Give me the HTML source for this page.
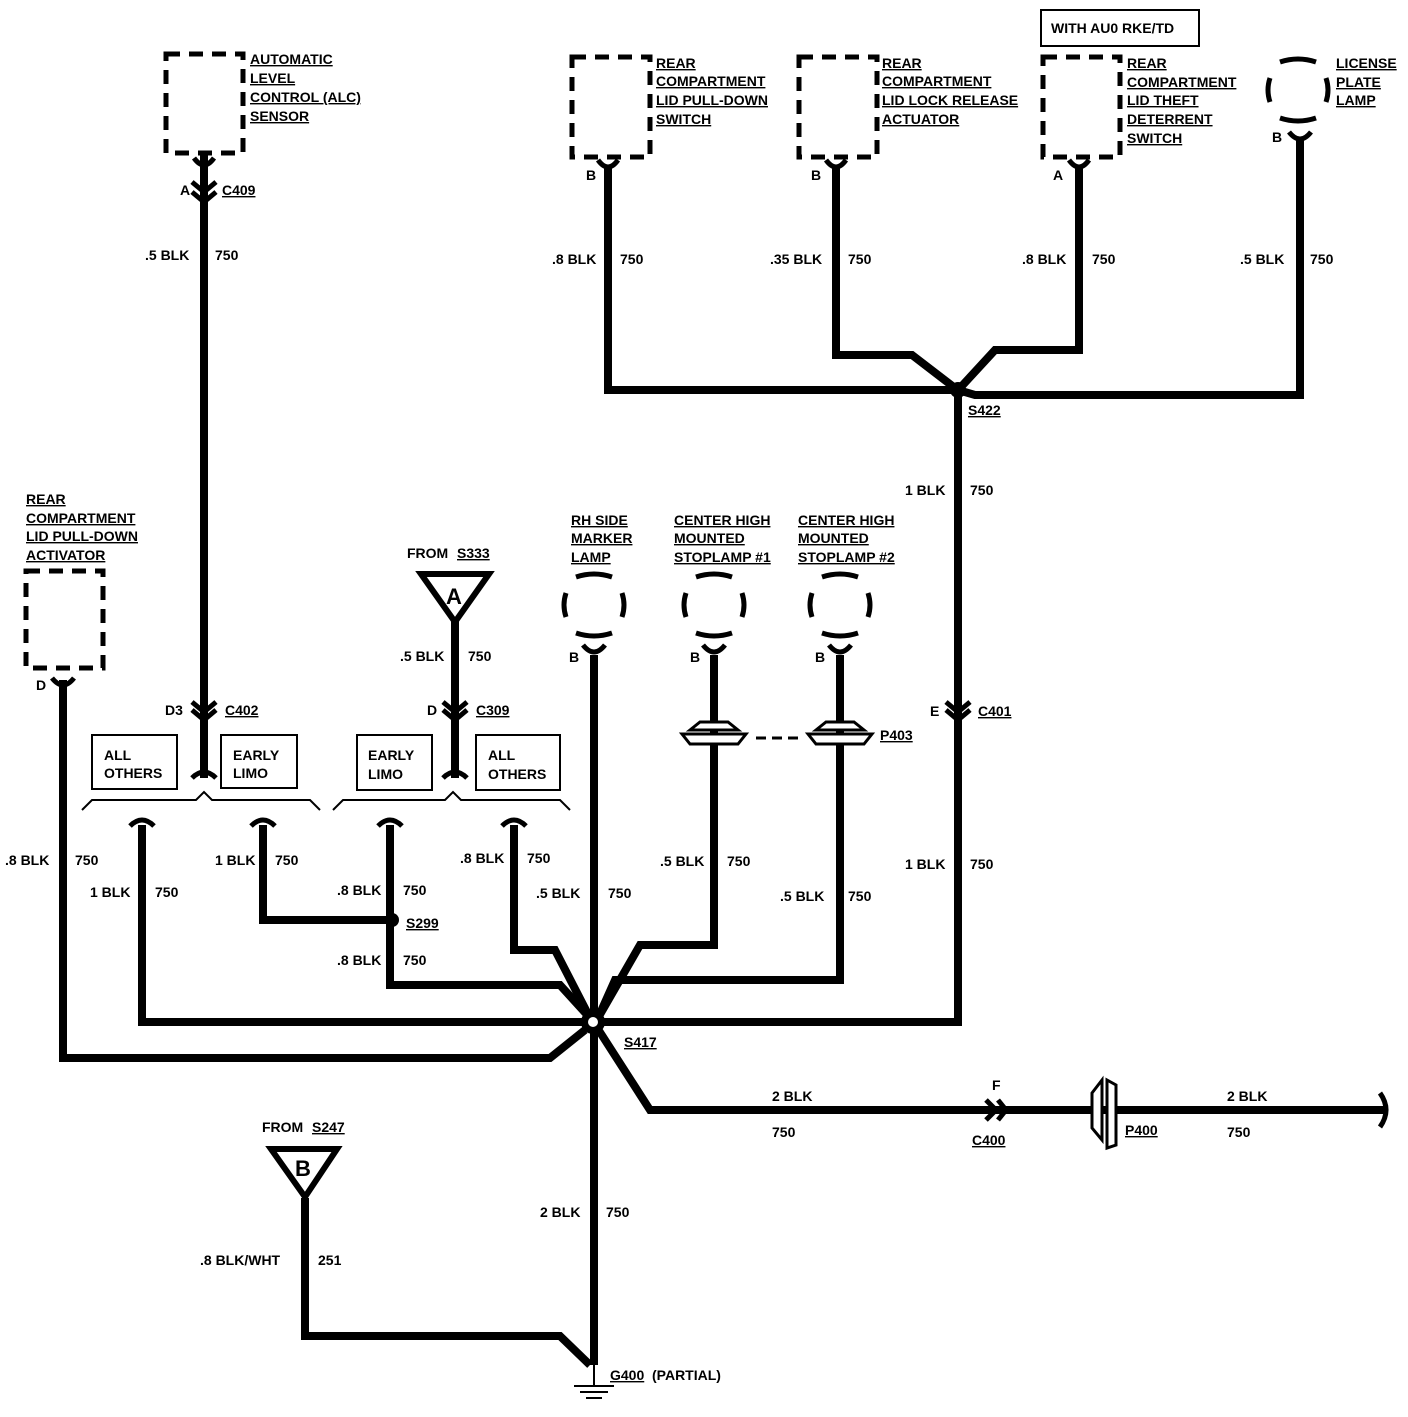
<!DOCTYPE html>
<html><head><meta charset="utf-8"><style>
html,body{margin:0;padding:0;background:#fff;}
svg text{font-family:"Liberation Sans",sans-serif;font-weight:bold;font-size:14px;fill:#000;}
</style></head><body>
<svg width="1408" height="1412" viewBox="0 0 1408 1412" xmlns="http://www.w3.org/2000/svg">
<rect width="1408" height="1412" fill="#fff"/>
<g fill="none" stroke="#000" stroke-width="8" stroke-linejoin="miter">
<path d="M204 155 V778"/>
<path d="M455 620 V778"/>
<path d="M63 680 V1058 H550 L585 1030"/>
<path d="M142 825 V1022 H593"/>
<path d="M263 825 V920 H392"/>
<path d="M390 825 V985 H560 L590 1018"/>
<path d="M514 825 V950 H555 L590 1018"/>
<path d="M594 655 V1365"/>
<path d="M714 655 V945 H640 L598 1018"/>
<path d="M840 655 V980 H615 L598 1018"/>
<path d="M958 392 V1022 H593"/>
<path d="M596 1026 L650 1110 H1385"/>
<path d="M305 1198 V1336 H560 L590 1365"/>
<path d="M608 165 V390 H940 L958 390"/>
<path d="M836 165 V355 H912 L955 388"/>
<path d="M1079 165 V350 H995 L960 388"/>
<path d="M1300 140 V395 H975 L958 390"/>
</g>
<g fill="none" stroke="#000" stroke-width="5" stroke-dasharray="14,9">
<rect x="166" y="54" width="77" height="99"/>
<rect x="26" y="571" width="77" height="97"/>
<rect x="572" y="57" width="78" height="100"/>
<rect x="799" y="57" width="78" height="100"/>
<rect x="1043" y="57" width="77" height="100"/>
</g>
<g fill="none" stroke="#000" stroke-width="5">
<path d="M194 158 Q204 172 214 158"/>
<path d="M52 678 Q63 692 74 678"/>
<path d="M598 160 Q608 174 618 160"/><path d="M826 160 Q836 174 846 160"/>
<path d="M1069 160 Q1079 174 1089 160"/><path d="M1289 132 Q1300 146 1311 132"/>
<path d="M583 645 Q594 659 605 645"/><path d="M703 645 Q714 659 725 645"/><path d="M829 645 Q840 659 851 645"/>
<path d="M130 826 Q142 814 154 826"/><path d="M251 826 Q263 814 275 826"/>
<path d="M378 826 Q390 814 402 826"/><path d="M502 826 Q514 814 526 826"/>
<path d="M192 778 Q204 766 216 778"/><path d="M443 778 Q455 766 467 778"/>
<path d="M192 182 L204 192 L216 182"/><path d="M192 192 L204 202 L216 192"/>
<path d="M192 702 L204 712 L216 702"/><path d="M192 710 L204 720 L216 710"/>
<path d="M443 702 L455 712 L467 702"/><path d="M443 710 L455 720 L467 710"/>
<path d="M946 702 L958 712 L970 702"/><path d="M946 710 L958 720 L970 710"/>
<path d="M986 1100 L996 1110 L986 1120"/><path d="M998 1100 L1006 1110 L998 1120"/>
<path d="M1380 1093 Q1392 1110 1380 1127"/>
</g>
<g fill="none" stroke="#000" stroke-width="5">
<g transform="translate(594,605)"><path d="M-18 -28 Q0 -34 18 -28"/><path d="M-28 -12 Q-32 0 -28 12"/><path d="M28 -12 Q32 0 28 12"/><path d="M-18 28 Q0 34 18 28"/></g>
<g transform="translate(714,605)"><path d="M-18 -28 Q0 -34 18 -28"/><path d="M-28 -12 Q-32 0 -28 12"/><path d="M28 -12 Q32 0 28 12"/><path d="M-18 28 Q0 34 18 28"/></g>
<g transform="translate(840,605)"><path d="M-18 -28 Q0 -34 18 -28"/><path d="M-28 -12 Q-32 0 -28 12"/><path d="M28 -12 Q32 0 28 12"/><path d="M-18 28 Q0 34 18 28"/></g>
<g transform="translate(1298,90)"><path d="M-18 -28 Q0 -34 18 -28"/><path d="M-28 -12 Q-32 0 -28 12"/><path d="M28 -12 Q32 0 28 12"/><path d="M-18 28 Q0 34 18 28"/></g>
</g>
<g fill="none" stroke="#000" stroke-width="2">
<rect x="92" y="735" width="85" height="54"/><rect x="221" y="735" width="76" height="53"/>
<rect x="357" y="735" width="75" height="55"/><rect x="476" y="735" width="84" height="55"/>
<path d="M82 810 L92 800 H196 L204 792 L212 800 H310 L320 810"/>
<path d="M333 810 L343 800 H445 L453 792 L461 800 H560 L570 810"/>
<rect x="1041" y="10" width="158" height="36"/>
</g>
<g fill="#fff" stroke="#000" stroke-width="3">
<path d="M690 730 L700 722 H728 L738 730 Z"/><path d="M682 734 H746 L738 744 H690 Z"/>
<path d="M816 730 L826 722 H854 L864 730 Z"/><path d="M808 734 H872 L864 744 H816 Z"/>
</g>
<path d="M756 738 H800" stroke="#000" stroke-width="3" stroke-dasharray="10,6"/>
<g fill="#fff" stroke="#000" stroke-width="3">
<path d="M1092 1093 L1102 1080 V1140 L1092 1128 Z"/><path d="M1107 1080 L1116 1085 V1145 L1107 1148 Z"/>
</g>
<g fill="#fff" stroke="#000" stroke-width="6">
<path d="M421 574 H489 L455 622 Z"/>
<path d="M271 1149 H337 L305 1197 Z"/>
</g>
<text x="446" y="604" style="font-size:22px">A</text>
<text x="295" y="1176" style="font-size:22px">B</text>
<circle cx="593" cy="1022" r="12" fill="#000"/><circle cx="593" cy="1022" r="5" fill="#fff"/>
<circle cx="958" cy="390" r="8" fill="#000"/>
<circle cx="392" cy="920" r="7" fill="#000"/>
<g stroke="#000" stroke-width="2"><path d="M594 1365 V1385 M574 1386 H614 M580 1392 H608 M586 1398 H602"/></g>
<g text-decoration="underline">
<text x="250" y="64">AUTOMATIC</text><text x="250" y="83">LEVEL</text><text x="250" y="102">CONTROL (ALC)</text><text x="250" y="121">SENSOR</text>
<text x="656" y="68">REAR</text><text x="656" y="86">COMPARTMENT</text><text x="656" y="105">LID PULL-DOWN</text><text x="656" y="124">SWITCH</text>
<text x="882" y="68">REAR</text><text x="882" y="86">COMPARTMENT</text><text x="882" y="105">LID LOCK RELEASE</text><text x="882" y="124">ACTUATOR</text>
<text x="1127" y="68">REAR</text><text x="1127" y="87">COMPARTMENT</text><text x="1127" y="105">LID THEFT</text><text x="1127" y="124">DETERRENT</text><text x="1127" y="143">SWITCH</text>
<text x="1336" y="68">LICENSE</text><text x="1336" y="87">PLATE</text><text x="1336" y="105">LAMP</text>
<text x="26" y="504">REAR</text><text x="26" y="523">COMPARTMENT</text><text x="26" y="541">LID PULL-DOWN</text><text x="26" y="560">ACTIVATOR</text>
<text x="571" y="525">RH SIDE</text><text x="571" y="543">MARKER</text><text x="571" y="562">LAMP</text>
<text x="674" y="525">CENTER HIGH</text><text x="674" y="543">MOUNTED</text><text x="674" y="562">STOPLAMP #1</text>
<text x="798" y="525">CENTER HIGH</text><text x="798" y="543">MOUNTED</text><text x="798" y="562">STOPLAMP #2</text>
<text x="222" y="195">C409</text><text x="225" y="715">C402</text><text x="476" y="715">C309</text><text x="978" y="716">C401</text>
<text x="968" y="415">S422</text><text x="406" y="928">S299</text><text x="624" y="1047">S417</text>
<text x="880" y="740">P403</text><text x="972" y="1145">C400</text><text x="1125" y="1135">P400</text>
<text x="457" y="558">S333</text><text x="312" y="1132">S247</text><text x="610" y="1380">G400</text>
</g>
<text x="1051" y="33">WITH AU0 RKE/TD</text>
<text x="180" y="195">A</text><text x="165" y="715">D3</text><text x="427" y="715">D</text><text x="930" y="716">E</text>
<text x="36" y="690">D</text><text x="586" y="180">B</text><text x="811" y="180">B</text><text x="1053" y="180">A</text><text x="1272" y="142">B</text>
<text x="569" y="662">B</text><text x="690" y="662">B</text><text x="815" y="662">B</text><text x="992" y="1090">F</text>
<text x="104" y="760">ALL</text><text x="104" y="778">OTHERS</text><text x="233" y="760">EARLY</text><text x="233" y="778">LIMO</text>
<text x="368" y="760">EARLY</text><text x="368" y="779">LIMO</text><text x="488" y="760">ALL</text><text x="488" y="779">OTHERS</text>
<text x="407" y="558">FROM</text><text x="262" y="1132">FROM</text><text x="652" y="1380">(PARTIAL)</text>
<text x="145" y="260">.5 BLK</text><text x="215" y="260">750</text>
<text x="552" y="264">.8 BLK</text><text x="620" y="264">750</text>
<text x="770" y="264">.35 BLK</text><text x="848" y="264">750</text>
<text x="1022" y="264">.8 BLK</text><text x="1092" y="264">750</text>
<text x="1240" y="264">.5 BLK</text><text x="1310" y="264">750</text>
<text x="905" y="495">1 BLK</text><text x="970" y="495">750</text>
<text x="400" y="661">.5 BLK</text><text x="468" y="661">750</text>
<text x="5" y="865">.8 BLK</text><text x="75" y="865">750</text>
<text x="90" y="897">1 BLK</text><text x="155" y="897">750</text>
<text x="215" y="865">1 BLK</text><text x="275" y="865">750</text>
<text x="337" y="895">.8 BLK</text><text x="403" y="895">750</text>
<text x="337" y="965">.8 BLK</text><text x="403" y="965">750</text>
<text x="460" y="863">.8 BLK</text><text x="527" y="863">750</text>
<text x="536" y="898">.5 BLK</text><text x="608" y="898">750</text>
<text x="660" y="866">.5 BLK</text><text x="727" y="866">750</text>
<text x="780" y="901">.5 BLK</text><text x="848" y="901">750</text>
<text x="905" y="869">1 BLK</text><text x="970" y="869">750</text>
<text x="772" y="1101">2 BLK</text><text x="772" y="1137">750</text>
<text x="1227" y="1101">2 BLK</text><text x="1227" y="1137">750</text>
<text x="540" y="1217">2 BLK</text><text x="606" y="1217">750</text>
<text x="200" y="1265">.8 BLK/WHT</text><text x="318" y="1265">251</text>
</svg>
</body></html>
